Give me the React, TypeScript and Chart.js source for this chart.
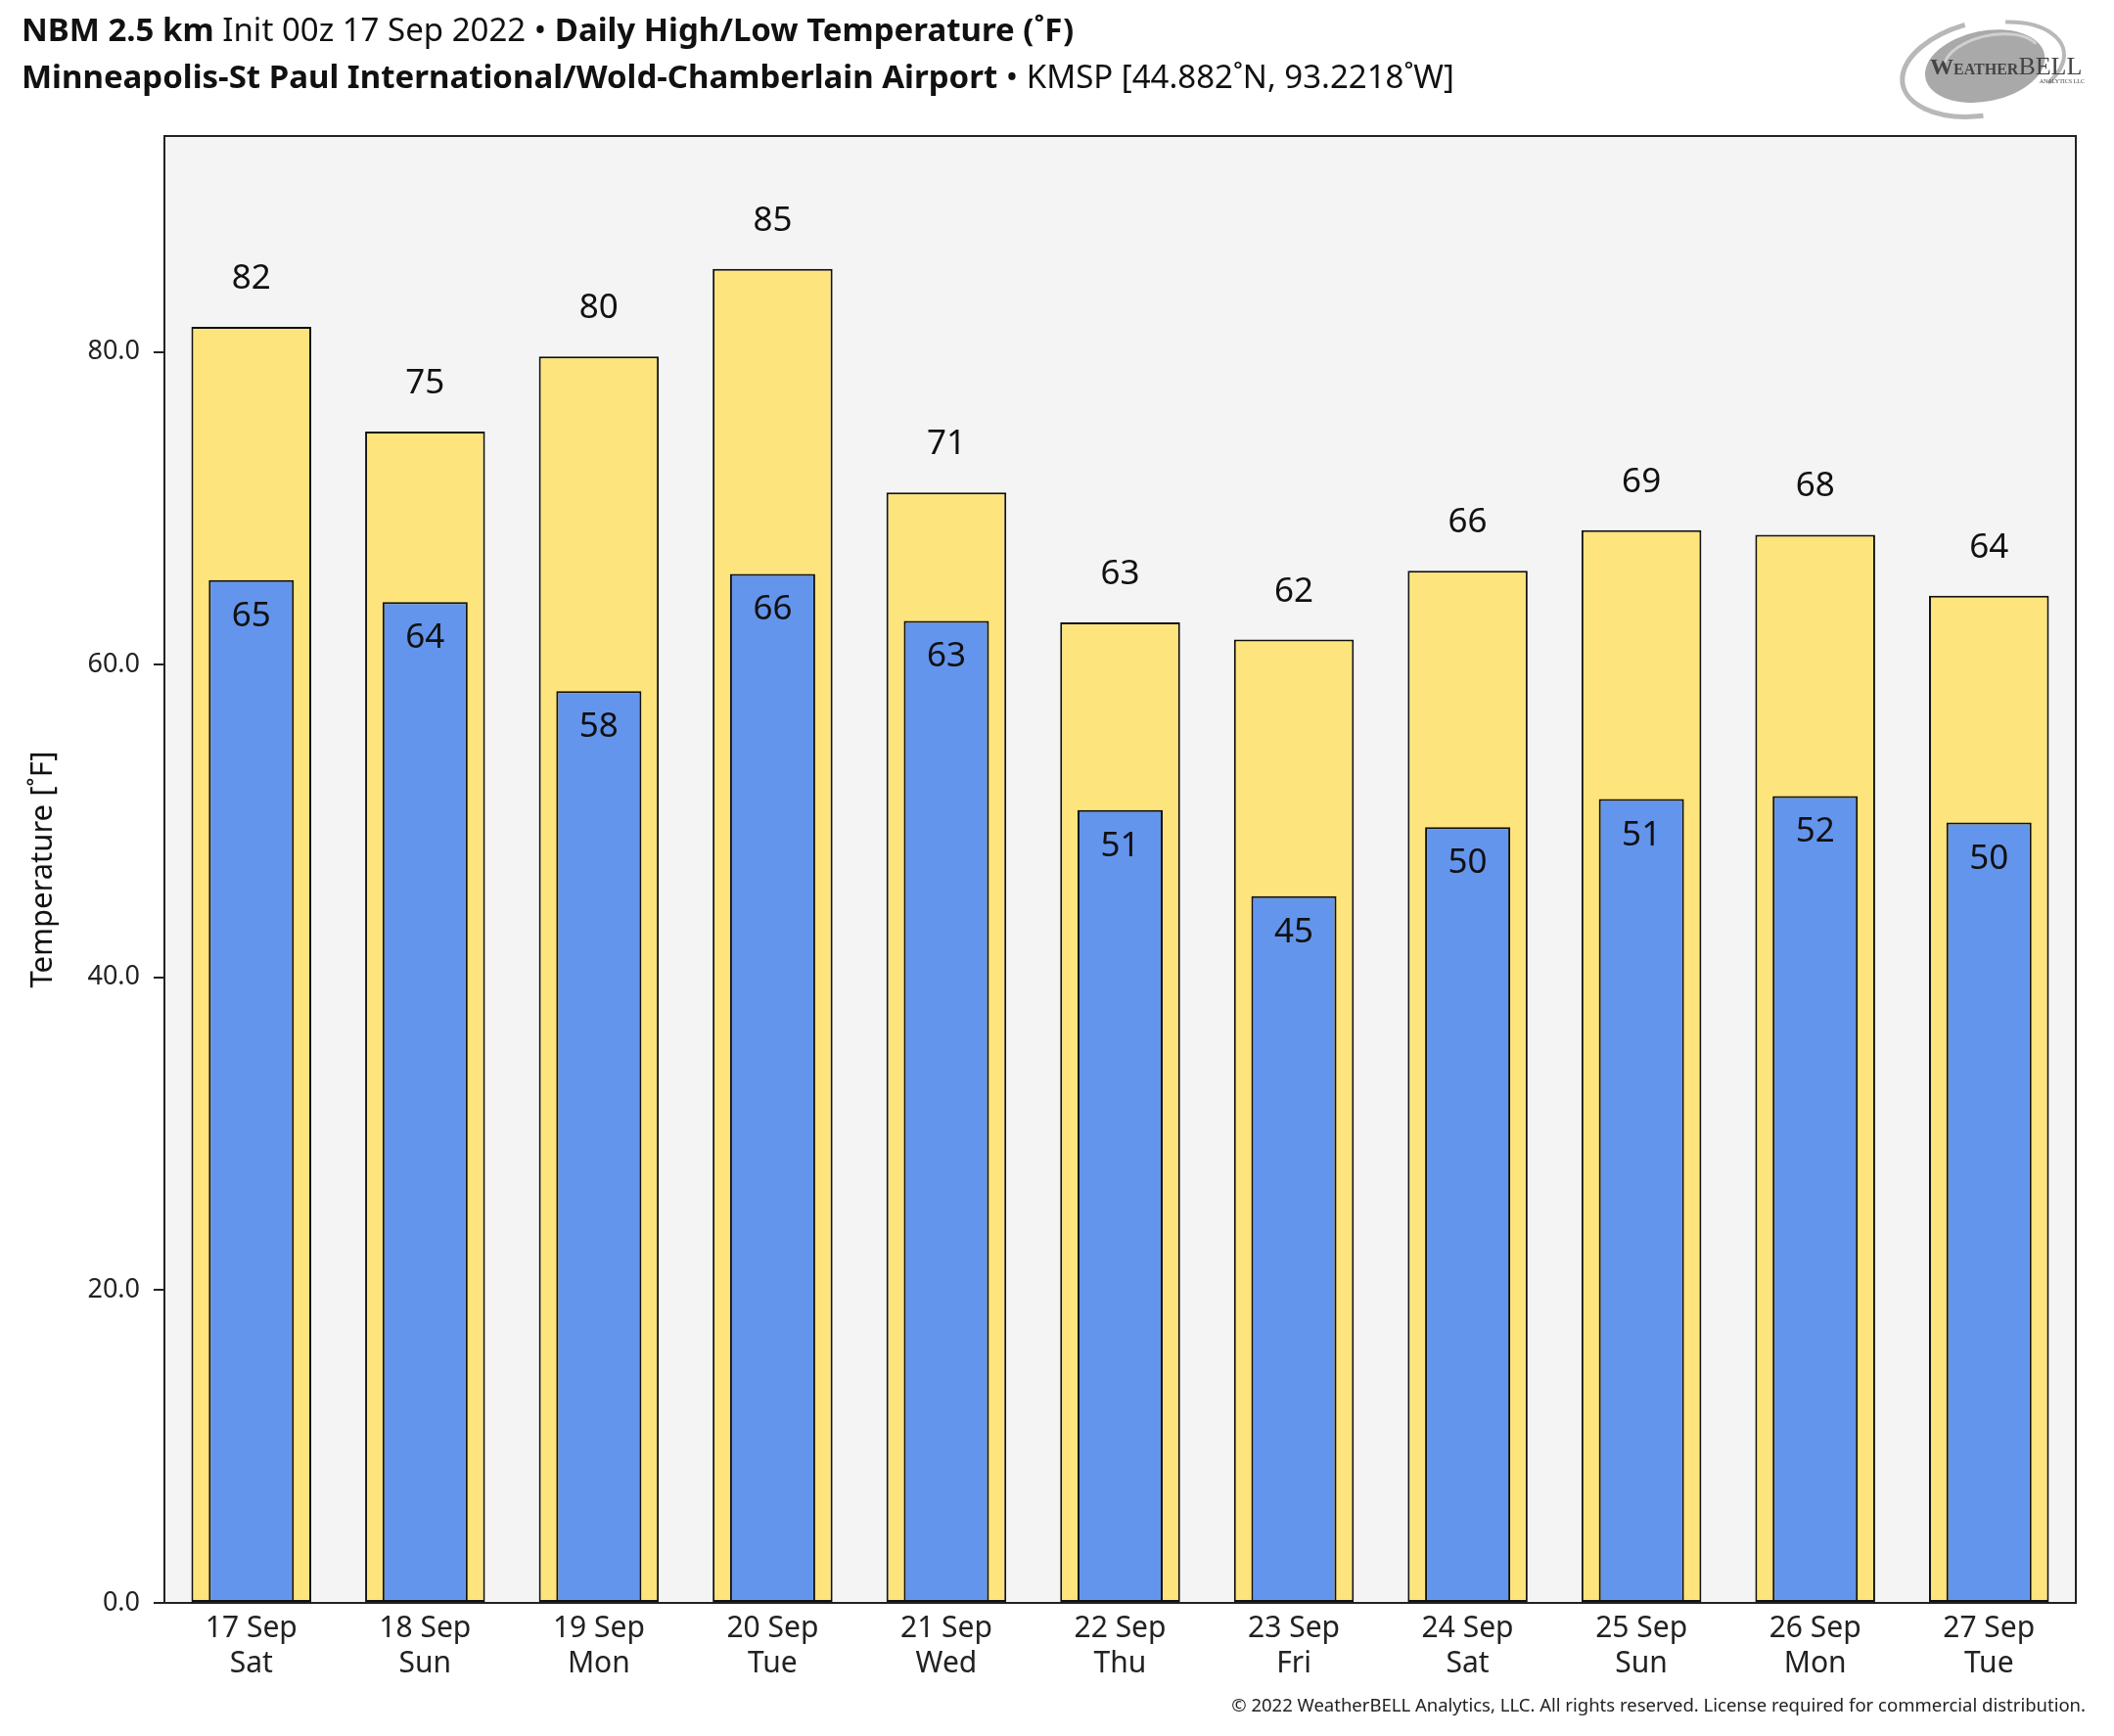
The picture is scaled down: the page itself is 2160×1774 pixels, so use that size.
import React, { useEffect, useRef } from "react";
import { Chart, registerables } from "chart.js";

Chart.register(...registerables);

const dates = ["17 Sep", "18 Sep", "19 Sep", "20 Sep", "21 Sep", "22 Sep", "23 Sep", "24 Sep", "25 Sep", "26 Sep", "27 Sep"];
const weekdays = ["Sat", "Sun", "Mon", "Tue", "Wed", "Thu", "Fri", "Sat", "Sun", "Mon", "Tue"];
const highTemps = [81.6, 74.9, 79.7, 85.3, 71.0, 62.7, 61.6, 66.0, 68.6, 68.3, 64.4];
const lowTemps = [65.4, 64.0, 58.3, 65.8, 62.8, 50.7, 45.2, 49.6, 51.4, 51.6, 49.9];
const yTicks = [0, 20, 40, 60, 80];

const FONT = "'Noto Sans', 'Open Sans', sans-serif";
const W = 2160;
const H = 1774;

const decorPlugin = {
  id: "decor",
  beforeDraw(chart: any) {
    const { ctx, chartArea: a } = chart;
    ctx.save();
    ctx.fillStyle = "#ffffff";
    ctx.fillRect(0, 0, chart.width, chart.height);
    ctx.fillStyle = "#f4f4f4";
    ctx.fillRect(a.left, a.top, a.right - a.left, a.bottom - a.top);
    ctx.restore();
  },
  afterDatasetsDraw(chart: any) {
    const { ctx, chartArea: a } = chart;
    ctx.save();
    const highMeta = chart.getDatasetMeta(1);
    const lowMeta = chart.getDatasetMeta(0);
    ctx.fillStyle = "#111";
    ctx.font = `35px ${FONT}`;
    ctx.textAlign = "center";
    ctx.textBaseline = "middle";
    highMeta.data.forEach((bar: any, i: number) => {
      ctx.fillText(String(Math.round(highTemps[i])), bar.x, bar.y - 49);
    });
    lowMeta.data.forEach((bar: any, i: number) => {
      ctx.fillText(String(Math.round(lowTemps[i])), bar.x, bar.y + 37);
    });
    ctx.strokeStyle = "#222";
    ctx.lineWidth = 2;
    ctx.strokeRect(a.left, a.top, a.right - a.left, a.bottom - a.top);
    ctx.restore();
  },
  afterDraw(chart: any) {
    const { ctx, chartArea: a } = chart;
    ctx.save();
    ctx.fillStyle = "#111";
    ctx.textBaseline = "middle";
    ctx.textAlign = "left";
    const line1: [string, boolean][] = [
      ["NBM 2.5 km ", true],
      ["Init 00z 17 Sep 2022 \u2022 ", false],
      ["Daily High/Low Temperature (\u02daF)", true],
    ];
    const line2: [string, boolean][] = [
      ["Minneapolis-St Paul International/Wold-Chamberlain Airport ", true],
      ["\u2022 KMSP [44.882\u02daN, 93.2218\u02daW]", false],
    ];
    const drawLine = (parts: [string, boolean][], y: number) => {
      let x = 22;
      parts.forEach(([t, b]) => {
        ctx.font = `${b ? "bold " : ""}33px ${FONT}`;
        ctx.fillText(t, x, y);
        x += ctx.measureText(t).width;
      });
    };
    drawLine(line1, 33);
    drawLine(line2, 81);

    ctx.save();
    ctx.translate(44, (a.top + a.bottom) / 2);
    ctx.rotate(-Math.PI / 2);
    ctx.textAlign = "center";
    ctx.font = `31px ${FONT}`;
    ctx.fillText("Temperature [\u02daF]", 0, 0);
    ctx.restore();

    ctx.textAlign = "right";
    ctx.font = `18.5px ${FONT}`;
    ctx.fillStyle = "#222";
    ctx.fillText(
      "\u00a9 2022 WeatherBELL Analytics, LLC. All rights reserved. License required for commercial distribution.",
      2131,
      1744
    );

    // Logo
    ctx.save();
    ctx.translate(2036, 66);
    ctx.save();
    ctx.rotate(-0.2);
    ctx.fillStyle = "#a9a9a9";
    ctx.beginPath();
    ctx.ellipse(-8, 0, 62, 36, 0, 0, Math.PI * 2);
    ctx.fill();
    ctx.strokeStyle = "#b8b8b8";
    ctx.lineWidth = 5;
    ctx.beginPath();
    ctx.ellipse(-6, 2, 88, 48, 0, Math.PI * 0.55, Math.PI * 1.45);
    ctx.stroke();
    ctx.lineWidth = 4;
    ctx.beginPath();
    ctx.ellipse(-2, 0, 76, 42, 0, Math.PI * 1.6, Math.PI * 2.25);
    ctx.stroke();
    ctx.strokeStyle = "#d0d0d0";
    ctx.lineWidth = 3;
    ctx.beginPath();
    ctx.ellipse(0, -4, 50, 26, 0, Math.PI * 1.1, Math.PI * 1.9);
    ctx.stroke();
    ctx.restore();
    ctx.fillStyle = "#444";
    ctx.textAlign = "left";
    ctx.textBaseline = "alphabetic";
    let lx = -64;
    ctx.font = `bold 24px 'Liberation Serif', serif`;
    ctx.fillText("W", lx, 10);
    lx += ctx.measureText("W").width;
    ctx.font = `bold 16px 'Liberation Serif', serif`;
    ctx.fillText("EATHER", lx, 10);
    lx += ctx.measureText("EATHER").width;
    ctx.font = `26px 'Liberation Serif', serif`;
    ctx.fillText("BELL", lx, 10);
    ctx.font = `6px 'Liberation Serif', serif`;
    ctx.textAlign = "right";
    ctx.fillText("ANALYTICS LLC", 94, 19);
    ctx.restore();

    ctx.restore();
  },
};

export default function App() {
  const ref = useRef<HTMLCanvasElement | null>(null);

  useEffect(() => {
    if (!ref.current) return;
    const labels = dates.map((d, i) => [d, weekdays[i]]);
    const chart = new Chart(ref.current, {
      type: "bar",
      data: {
        labels,
        datasets: [
          {
            label: "Low",
            data: lowTemps,
            backgroundColor: "#6495ed",
            borderColor: "#111",
            borderWidth: 2,
            borderSkipped: false,
            barPercentage: 0.49,
            categoryPercentage: 1.0,
            grouped: false,
            order: 0,
          } as any,
          {
            label: "High",
            data: highTemps,
            backgroundColor: "#fde47c",
            borderColor: "#111",
            borderWidth: 2,
            borderSkipped: false,
            barPercentage: 0.69,
            categoryPercentage: 1.0,
            grouped: false,
            order: 1,
          } as any,
        ],
      },
      options: {
        animation: false,
        responsive: false,
        devicePixelRatio: 1,
        layout: { padding: { top: 139, right: 39, left: 0, bottom: 0 } },
        plugins: {
          legend: { display: false },
          tooltip: { enabled: false },
          title: { display: false },
        },
        scales: {
          x: {
            grid: { display: false },
            border: { display: false },
            ticks: {
              color: "#222",
              padding: 0,
              font: { family: FONT, size: 30, lineHeight: 1.2 },
              maxRotation: 0,
              autoSkip: false,
            },
            afterFit(scale: any) {
              scale.height = 136;
            },
          },
          y: {
            min: 0,
            max: 93.8,
            grid: {
              display: true,
              drawOnChartArea: false,
              drawTicks: true,
              tickLength: 11,
              color: "#222",
              lineWidth: 2,
            },
            border: { display: false },
            afterBuildTicks(scale: any) {
              scale.ticks = yTicks.map((v) => ({ value: v }));
            },
            ticks: {
              color: "#222",
              padding: 14,
              font: { family: FONT, size: 27 },
              callback: (v: any) => Number(v).toFixed(1),
            },
            afterFit(scale: any) {
              scale.width = 168;
            },
          },
        },
      },
      plugins: [decorPlugin],
    });
    return () => chart.destroy();
  }, []);

  return (
    <div style={{ position: "absolute", left: 0, top: 0, width: W, height: H, background: "#fff" }}>
      <canvas ref={ref} width={W} height={H} style={{ display: "block", width: W, height: H }} />
    </div>
  );
}
